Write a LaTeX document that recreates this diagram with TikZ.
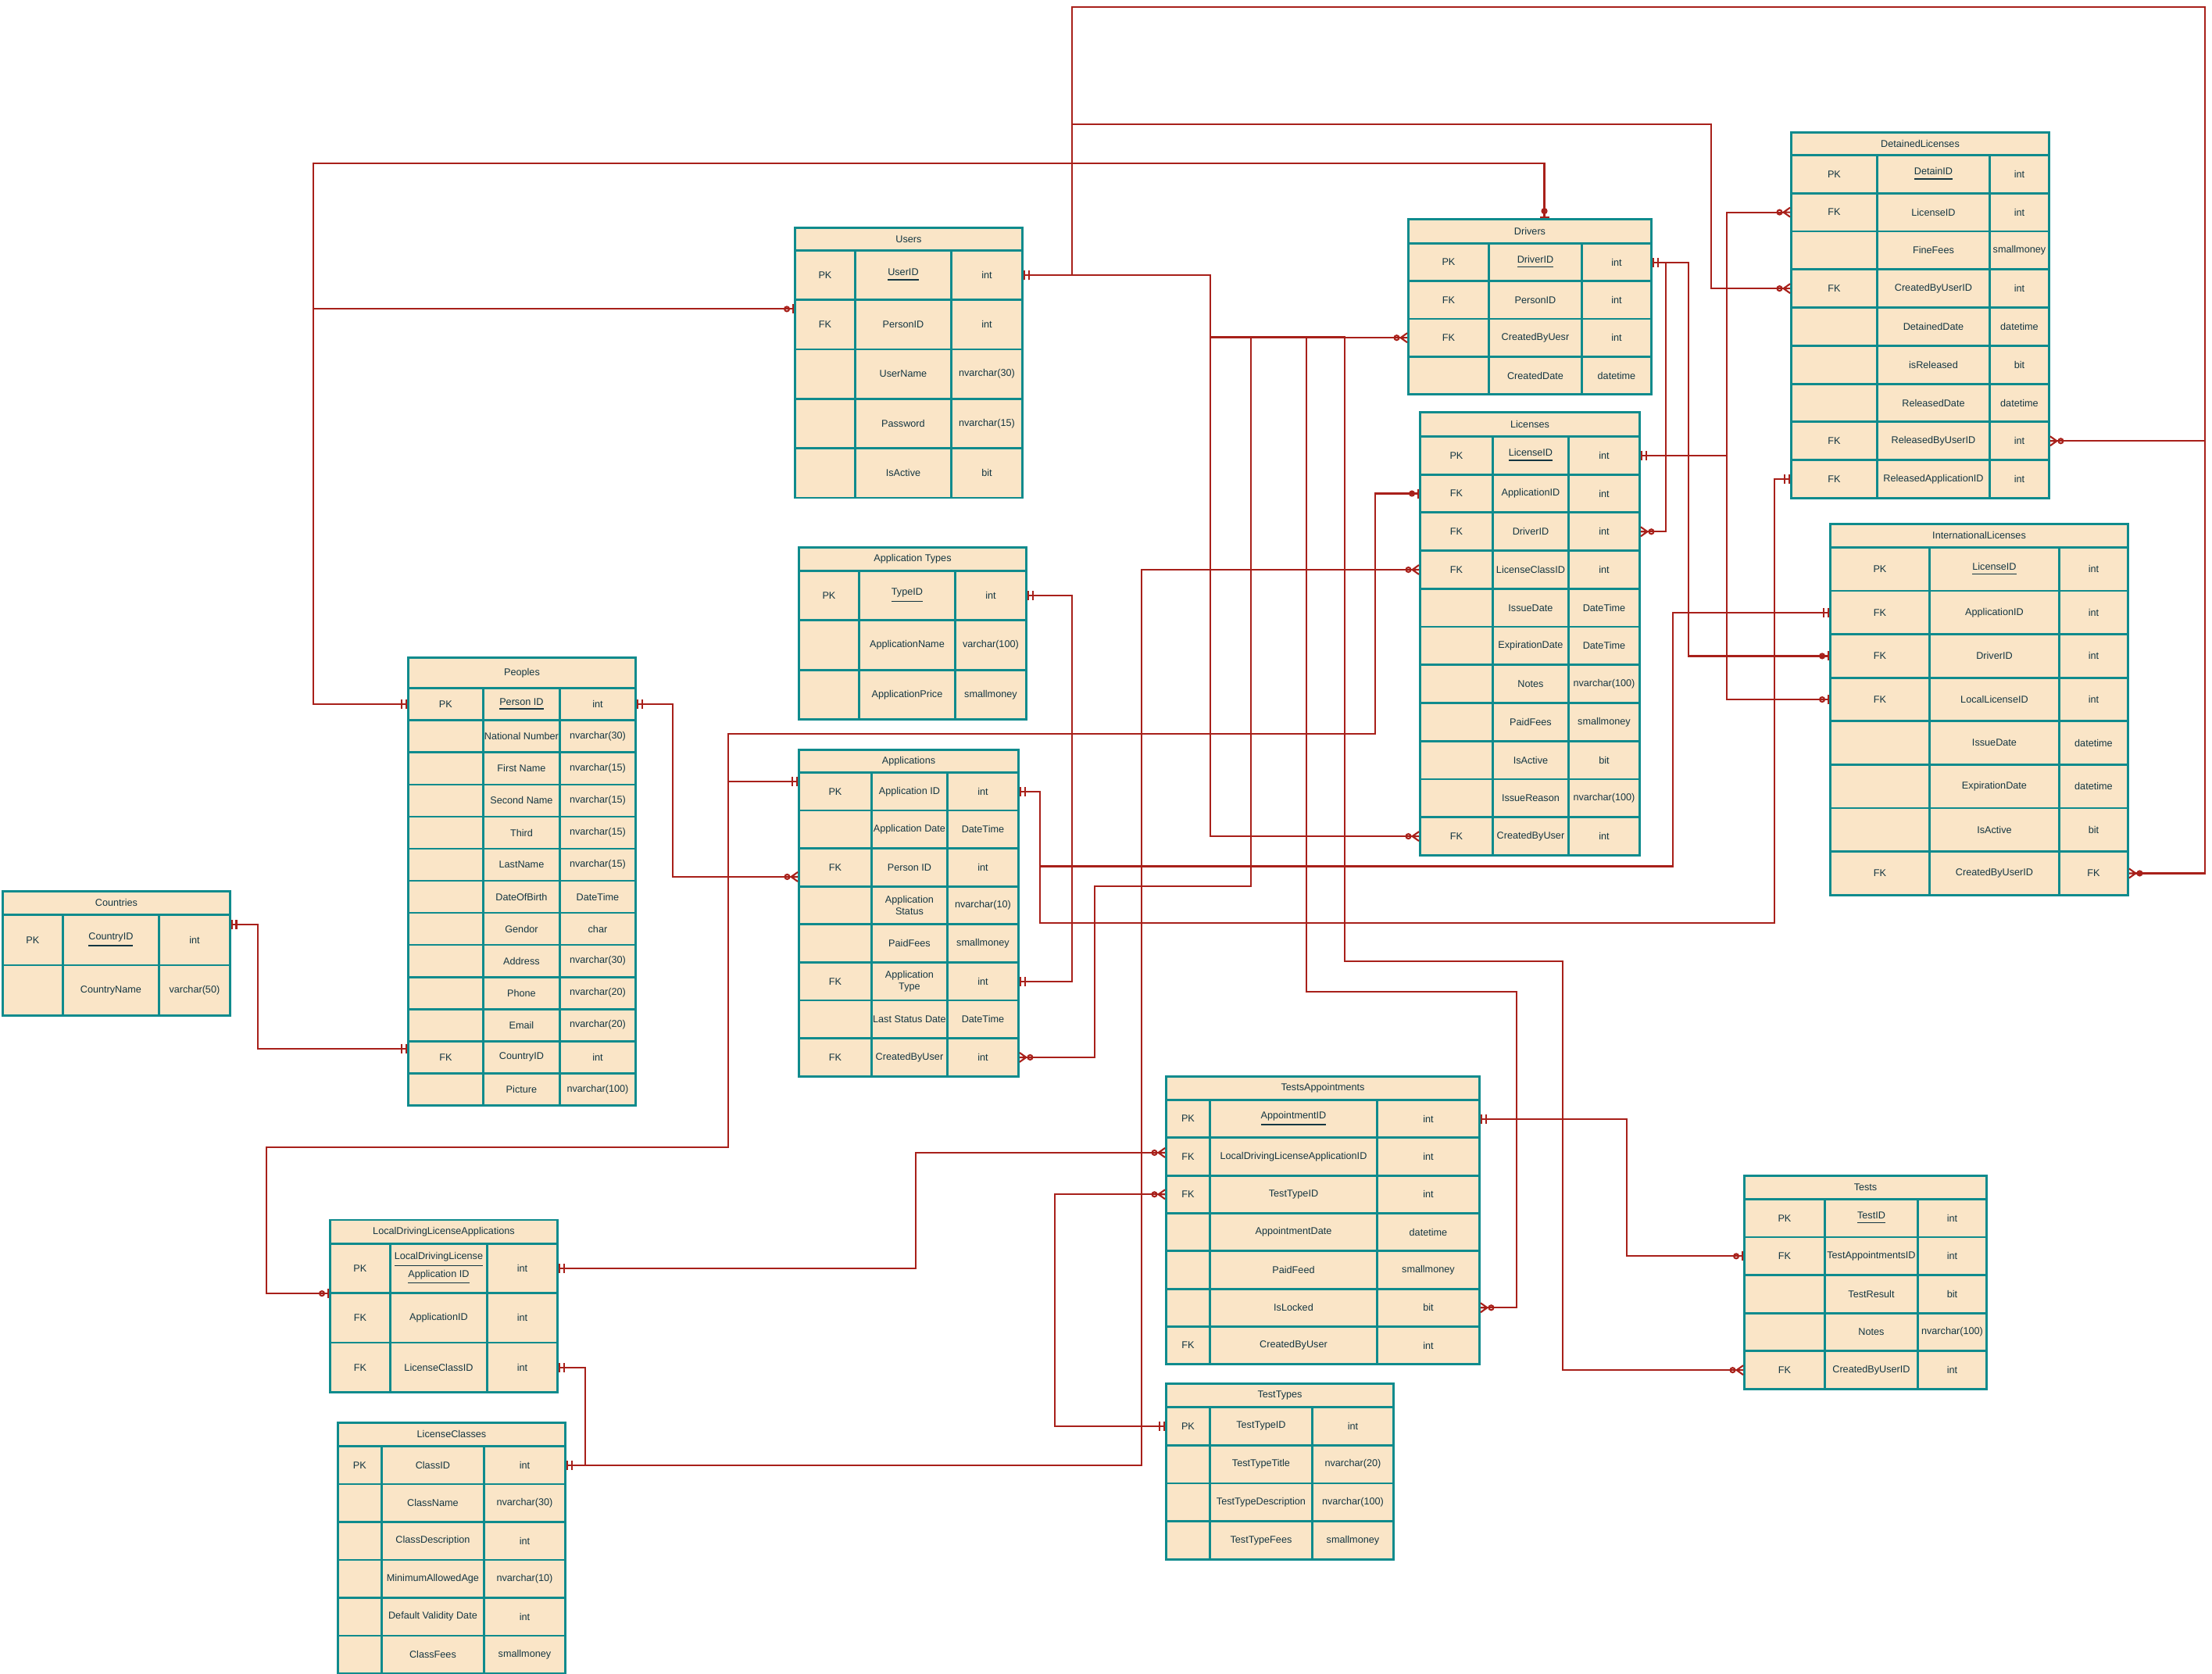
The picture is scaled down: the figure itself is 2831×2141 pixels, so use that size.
\documentclass[tikz,border=0pt]{standalone}
\usepackage{fontspec}
\setmainfont{Liberation Sans}
\usepackage{tikz}
\usetikzlibrary{arrows.meta,calc}

\definecolor{tfill}{HTML}{FAE5C7}
\definecolor{tline}{HTML}{0F8B8D}
\definecolor{ttext}{HTML}{143642}
\definecolor{rline}{HTML}{A8201A}

% crow's foot (many) tip
\pgfdeclarearrow{
  name = CrowFoot,
  parameters = {\the\pgfarrowlength,\the\pgfarrowwidth},
  setup code = {
    \pgfarrowssettipend{0pt}
    \pgfarrowssetlineend{-\pgfarrowlength}
    \pgfarrowssetvisualbackend{-\pgfarrowlength}
    \pgfarrowssetbackend{-\pgfarrowlength}
    \pgfarrowshullpoint{0pt}{.5\pgfarrowwidth}
    \pgfarrowshullpoint{0pt}{-.5\pgfarrowwidth}
    \pgfarrowshullpoint{-\pgfarrowlength}{0pt}
    \pgfarrowssavethe\pgfarrowlength
    \pgfarrowssavethe\pgfarrowwidth
  },
  drawing code = {
    \pgfsetdash{}{0pt}
    \pgfpathmoveto{\pgfqpoint{0pt}{.5\pgfarrowwidth}}
    \pgfpathlineto{\pgfqpoint{-\pgfarrowlength}{0pt}}
    \pgfpathlineto{\pgfqpoint{0pt}{-.5\pgfarrowwidth}}
    \pgfpathmoveto{\pgfqpoint{-\pgfarrowlength}{0pt}}
    \pgfpathlineto{\pgfqpoint{0pt}{0pt}}
    \pgfusepathqstroke
  },
  defaults = {length=2.4pt, width=3.4pt}
}

\tikzset{
  oneone/.tip={Bar[width=3.4pt,sep=1pt]Bar[width=3.4pt]},
  zmany/.tip={Circle[open,length=2.3pt,sep=0.3pt]CrowFoot[length=2.4pt,width=3.4pt]},
  zone/.tip={Circle[open,length=2.3pt,sep=0.8pt]Bar[width=3.4pt]},
}

\begin{document}
\begin{tikzpicture}[x=0.01cm,y=-0.01cm,font=\fontsize{3.6}{4.3}\selectfont,
  cell/.style={draw=tline,fill=tfill,line width=0.8pt,anchor=north west,inner sep=0pt,align=center,text=ttext},
  rel/.style={draw=rline,line width=0.6pt}]
\useasboundingbox (0,0) rectangle (2831,2141);

% Users
\node[cell,minimum width=2.91cm,minimum height=0.29cm] (users) at (1016,290) {Users};
\foreach \k/\n/\t [count=\i] in {PK/\underline{UserID}/int,FK/PersonID/int,/UserName/nvarchar(30),/Password/nvarchar(15),/IsActive/bit}
  \path[every node/.append style={minimum height=0.633cm}] (1016,{319+63.3*(\i-1)})
    node[cell,minimum width=0.77cm] (users-\i) {\k} ++(77,0)
    node[cell,minimum width=1.23cm] (users-n\i) {\n} ++(123,0)
    node[cell,minimum width=0.91cm] (users-t\i) {\t};

% Application Types
\node[cell,minimum width=2.91cm,minimum height=0.30cm] (apptypes) at (1021,699) {Application Types};
\foreach \k/\n/\t [count=\i] in {PK/\underline{TypeID}/int,/ApplicationName/varchar(100),/ApplicationPrice/smallmoney}
  \path[every node/.append style={minimum height=0.634cm}] (1021,{729+63.4*(\i-1)})
    node[cell,minimum width=0.77cm] (apptypes-\i) {\k} ++(77,0)
    node[cell,minimum width=1.23cm] (apptypes-n\i) {\n} ++(123,0)
    node[cell,minimum width=0.91cm] (apptypes-t\i) {\t};

% Peoples
\node[cell,minimum width=2.91cm,minimum height=0.394cm] (peoples) at (521,840) {Peoples};
\foreach \k/\n/\t [count=\i] in {PK/\underline{Person ID}/int,/National Number/nvarchar(30),/First Name/nvarchar(15),/Second Name/nvarchar(15),/Third/nvarchar(15),/LastName/nvarchar(15),/DateOfBirth/DateTime,/Gendor/char,/Address/nvarchar(30),/Phone/nvarchar(20),/Email/nvarchar(20),FK/CountryID/int,/Picture/nvarchar(100)}
  \path[every node/.append style={minimum height=0.4103cm}] (521,{879.4+41.03*(\i-1)})
    node[cell,minimum width=0.96cm] (peoples-\i) {\k} ++(96,0)
    node[cell,minimum width=0.98cm] (peoples-n\i) {\n} ++(98,0)
    node[cell,minimum width=0.97cm] (peoples-t\i) {\t};

% Countries
\node[cell,minimum width=2.91cm,minimum height=0.30cm] (countries) at (2,1139) {Countries};
\foreach \k/\n/\t [count=\i] in {PK/\underline{CountryID}/int,/CountryName/varchar(50)}
  \path[every node/.append style={minimum height=0.645cm}] (2,{1169+64.5*(\i-1)})
    node[cell,minimum width=0.77cm] (countries-\i) {\k} ++(77,0)
    node[cell,minimum width=1.23cm] (countries-n\i) {\n} ++(123,0)
    node[cell,minimum width=0.91cm] (countries-t\i) {\t};

% Applications
\node[cell,minimum width=2.81cm,minimum height=0.29cm] (apps) at (1021,958) {Applications};
\foreach \k/\n/\t [count=\i] in {PK/Application ID/int,/Application Date/DateTime,FK/Person ID/int,/{Application\\Status}/nvarchar(10),/PaidFees/smallmoney,FK/{Application\\Type}/int,/Last Status Date/DateTime,FK/CreatedByUser/int}
  \path[every node/.append style={minimum height=0.486cm}] (1021,{987+48.6*(\i-1)})
    node[cell,minimum width=0.93cm] (apps-\i) {\k} ++(93,0)
    node[cell,minimum width=0.97cm] (apps-n\i) {\n} ++(97,0)
    node[cell,minimum width=0.91cm] (apps-t\i) {\t};

% Drivers
\node[cell,minimum width=3.11cm,minimum height=0.31cm] (drivers) at (1801,279) {Drivers};
\foreach \k/\n/\t [count=\i] in {PK/\underline{DriverID}/int,FK/PersonID/int,FK/CreatedByUesr/int,/CreatedDate/datetime}
  \path[every node/.append style={minimum height=0.483cm}] (1801,{310+48.3*(\i-1)})
    node[cell,minimum width=1.03cm] (drivers-\i) {\k} ++(103,0)
    node[cell,minimum width=1.19cm] (drivers-n\i) {\n} ++(119,0)
    node[cell,minimum width=0.89cm] (drivers-t\i) {\t};

% Licenses
\node[cell,minimum width=2.81cm,minimum height=0.31cm] (licenses) at (1816,526) {Licenses};
\foreach \k/\n/\t [count=\i] in {PK/\underline{LicenseID}/int,FK/ApplicationID/int,FK/DriverID/int,FK/LicenseClassID/int,/IssueDate/DateTime,/ExpirationDate/DateTime,/Notes/nvarchar(100),/PaidFees/smallmoney,/IsActive/bit,/IssueReason/nvarchar(100),FK/CreatedByUser/int}
  \path[every node/.append style={minimum height=0.4873cm}] (1816,{557+48.73*(\i-1)})
    node[cell,minimum width=0.93cm] (licenses-\i) {\k} ++(93,0)
    node[cell,minimum width=0.97cm] (licenses-n\i) {\n} ++(97,0)
    node[cell,minimum width=0.91cm] (licenses-t\i) {\t};

% DetainedLicenses
\node[cell,minimum width=3.30cm,minimum height=0.29cm] (detained) at (2291,168) {DetainedLicenses};
\foreach \k/\n/\t [count=\i] in {PK/\underline{DetainID}/int,FK/LicenseID/int,/FineFees/smallmoney,FK/CreatedByUserID/int,/DetainedDate/datetime,/isReleased/bit,/ReleasedDate/datetime,FK/ReleasedByUserID/int,FK/ReleasedApplicationID/int}
  \path[every node/.append style={minimum height=0.4878cm}] (2291,{197+48.78*(\i-1)})
    node[cell,minimum width=1.10cm] (detained-\i) {\k} ++(110,0)
    node[cell,minimum width=1.44cm] (detained-n\i) {\n} ++(144,0)
    node[cell,minimum width=0.76cm] (detained-t\i) {\t};

% InternationalLicenses
\node[cell,minimum width=3.81cm,minimum height=0.30cm] (intl) at (2341,669) {InternationalLicenses};
\foreach \k/\n/\t [count=\i] in {PK/\underline{LicenseID}/int,FK/ApplicationID/int,FK/DriverID/int,FK/LocalLicenseID/int,/IssueDate/datetime,/ExpirationDate/datetime,/IsActive/bit,FK/CreatedByUserID/FK}
  \path[every node/.append style={minimum height=0.556cm}] (2341,{699+55.6*(\i-1)})
    node[cell,minimum width=1.27cm] (intl-\i) {\k} ++(127,0)
    node[cell,minimum width=1.66cm] (intl-n\i) {\n} ++(166,0)
    node[cell,minimum width=0.88cm] (intl-t\i) {\t};

% TestsAppointments
\node[cell,minimum width=4.01cm,minimum height=0.30cm] (appts) at (1491,1376) {TestsAppointments};
\foreach \k/\n/\t [count=\i] in {PK/\underline{AppointmentID}/int,FK/LocalDrivingLicenseApplicationID/int,FK/TestTypeID/int,/AppointmentDate/datetime,/PaidFeed/smallmoney,/IsLocked/bit,FK/CreatedByUser/int}
  \path[every node/.append style={minimum height=0.4833cm}] (1491,{1406+48.33*(\i-1)})
    node[cell,minimum width=0.56cm] (appts-\i) {\k} ++(56,0)
    node[cell,minimum width=2.14cm] (appts-n\i) {\n} ++(214,0)
    node[cell,minimum width=1.31cm] (appts-t\i) {\t};

% Tests
\node[cell,minimum width=3.10cm,minimum height=0.30cm] (tests) at (2231,1503) {Tests};
\foreach \k/\n/\t [count=\i] in {PK/\underline{TestID}/int,FK/TestAppointmentsID/int,/TestResult/bit,/Notes/nvarchar(100),FK/CreatedByUserID/int}
  \path[every node/.append style={minimum height=0.486cm}] (2231,{1533+48.6*(\i-1)})
    node[cell,minimum width=1.03cm] (tests-\i) {\k} ++(103,0)
    node[cell,minimum width=1.19cm] (tests-n\i) {\n} ++(119,0)
    node[cell,minimum width=0.88cm] (tests-t\i) {\t};

% TestTypes
\node[cell,minimum width=2.91cm,minimum height=0.30cm] (testtypes) at (1491,1769) {TestTypes};
\foreach \k/\n/\t [count=\i] in {PK/TestTypeID/int,/TestTypeTitle/nvarchar(20),/TestTypeDescription/nvarchar(100),/TestTypeFees/smallmoney}
  \path[every node/.append style={minimum height=0.4875cm}] (1491,{1799+48.75*(\i-1)})
    node[cell,minimum width=0.56cm] (testtypes-\i) {\k} ++(56,0)
    node[cell,minimum width=1.31cm] (testtypes-n\i) {\n} ++(131,0)
    node[cell,minimum width=1.04cm] (testtypes-t\i) {\t};

% LocalDrivingLicenseApplications
\node[cell,minimum width=2.91cm,minimum height=0.305cm] (ldla) at (421,1559.5) {LocalDrivingLicenseApplications};
\foreach \k/\n/\t [count=\i] in {PK/{\underline{LocalDrivingLicense}\\\underline{Application ID}}/int,FK/ApplicationID/int,FK/LicenseClassID/int}
  \path[every node/.append style={minimum height=0.633cm}] (421,{1590+63.3*(\i-1)})
    node[cell,minimum width=0.77cm] (ldla-\i) {\k} ++(77,0)
    node[cell,minimum width=1.24cm] (ldla-n\i) {\n} ++(124,0)
    node[cell,minimum width=0.90cm] (ldla-t\i) {\t};

% LicenseClasses
\node[cell,minimum width=2.91cm,minimum height=0.30cm] (classes) at (431,1819) {LicenseClasses};
\foreach \k/\n/\t [count=\i] in {PK/ClassID/int,/ClassName/nvarchar(30),/ClassDescription/int,/MinimumAllowedAge/nvarchar(10),/Default Validity Date/int,/ClassFees/smallmoney}
  \path[every node/.append style={minimum height=0.485cm}] (431,{1849+48.5*(\i-1)})
    node[cell,minimum width=0.56cm] (classes-\i) {\k} ++(56,0)
    node[cell,minimum width=1.31cm] (classes-n\i) {\n} ++(131,0)
    node[cell,minimum width=1.04cm] (classes-t\i) {\t};

% relations from Users
\draw[rel,arrows=oneone-zmany] (users-t1.east) -| (1372,9) -| (2822,300) |- (detained-t8.east);
\draw[rel,arrows=oneone-zmany] (users-t1.east) -| (1372,9) -| (2822,600) |- (intl-t8.east);
\draw[rel,arrows=oneone-zmany] (users-t1.east) -| (1372,159) -| (2190,300) |- (detained-4.west);
\draw[rel,arrows=oneone-zmany] (users-t1.east) -| (1549,400) |- (drivers-3.west);
\draw[rel,arrows=oneone-zmany] (users-t1.east) -| (1549,600) |- (licenses-11.west);
\draw[rel,arrows=oneone-zmany] (users-t1.east) -| (1549,400) |- (1601,430.75) -- (1601,1134) -| (1401,1200) |- (apps-t8.east);
\draw[rel,arrows=oneone-zmany] (users-t1.east) -| (1549,400) |- (1672,430.75) |- (1941,1269) |- (appts-t6.east);
\draw[rel,arrows=oneone-zmany] (users-t1.east) -| (1549,400) |- (1721,430.75) |- (2000,1230) |- (tests-5.west);

% relations from Peoples, Countries
\draw[rel,arrows=oneone-zone] (peoples-1.west) -| (401,209) -| ($(drivers.north)+(18.5,0)$);
\draw[rel,arrows=oneone-zone] (peoples-1.west) -| (401,500) |- ($(users-2.west)+(0,-20)$);
\draw[rel,arrows=oneone-zmany] (peoples-t1.east) -| (861,1000) |- ($(apps-3.west)+(0,12)$);
\draw[rel,arrows=oneone-oneone] ($(countries-t1.east)+(0,-20)$) -| (330,1250) |- ($(peoples-12.west)+(0,-11)$);

% relations from Applications, Application Types
\draw[rel,arrows=oneone-oneone] (apps-t1.east) -| (1331,1100) |- (2271,1181) |- (detained-9.west);
\draw[rel,arrows=oneone-oneone] (apps-t1.east) -| (1331,1100) |- (2141,1108.5) |- (intl-2.west);
\draw[rel,arrows=oneone-zone] ($(apps-1.west)+(0,-13)$) -| (932,960) |- (1760,939) |- (licenses-2.west);
\draw[rel,arrows=oneone-zone] ($(apps-1.west)+(0,-13)$) -| (932,1300) |- (341,1468) |- ($(ldla-1.west)+(0,32)$);
\draw[rel,arrows=oneone-oneone] (apptypes-t1.east) -| (1372,1000) |- (apps-t6.east);

% relations from Licenses, Drivers
\draw[rel,arrows=oneone-zmany] (licenses-t1.east) -| (2210,400) |- (detained-2.west);
\draw[rel,arrows=oneone-zone] (licenses-t1.east) -| (2210,700) |- (intl-4.west);
\draw[rel,arrows=oneone-zmany] (drivers-t1.east) -| (2132,500) |- (licenses-t3.east);
\draw[rel,arrows=oneone-zone] (drivers-t1.east) -| (2161,500) |- (intl-3.west);

% relations from LicenseClasses, LocalDrivingLicenseApplications, tests
\draw[rel,arrows=oneone-zmany] (classes-t1.east) -| (1461,1000) |- (licenses-4.west);
\draw[rel,arrows=oneone-oneone] (classes-t1.east) -| (749,1800) |- (ldla-t3.east);
\draw[rel,arrows=oneone-zmany] (ldla-t1.east) -| (1172,1500) |- ($(appts-2.west)+(0,-5)$);
\draw[rel,arrows=oneone-zmany] (testtypes-1.west) -| (1350,1700) |- (appts-3.west);
\draw[rel,arrows=oneone-zone] (appts-t1.east) -| (2082,1500) |- (tests-2.west);
\end{tikzpicture}
\end{document}
